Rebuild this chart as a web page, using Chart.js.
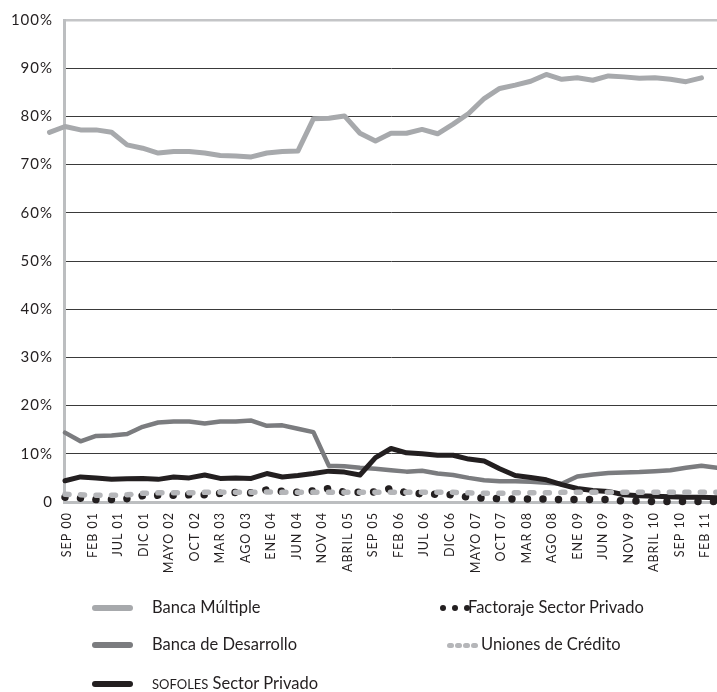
<!DOCTYPE html>
<html>
<head>
<meta charset="utf-8">
<script src="https://cdn.jsdelivr.net/npm/chart.js@4.4.1/dist/chart.umd.min.js"></script>
<style>
body { margin: 0; background: #fff; }
#wrap { position: relative; width: 717px; height: 692px; }
#legend { position: absolute; left: 0; top: 0; width: 717px; height: 692px; font-family: Lato, sans-serif; font-size: 16.5px; color: #231f20; }
.txt { position: absolute; white-space: nowrap; line-height: 20px; height: 20px; }
.mark { position: absolute; }
</style>
</head>
<body>
<div id="wrap">
<canvas id="c" width="717" height="692"></canvas>
<div id="legend"></div>
</div>
<script>
// etiquetas del eje X (cada 5 meses, desde SEP 00)
var xLabels = ["SEP 00", "FEB 01", "JUL 01", "DIC 01", "MAYO 02", "OCT 02", "MAR 03", "AGO 03", "ENE 04", "JUN 04",
	"NOV 04", "ABRIL 05", "SEP 05", "FEB 06", "JUL 06", "DIC 06", "MAYO 07", "OCT 07", "MAR 08", "AGO 08",
	"ENE 09", "JUN 09", "NOV 09", "ABRIL 10", "SEP 10", "FEB 11"];

var yTicks = [0, 10, 20, 30, 40, 50, 60, 70, 80, 90, 100];

var seriesNames = ["Banca Múltiple", "Banca de Desarrollo", "SOFOLES Sector Privado", "Factoraje Sector Privado", "Uniones de Crédito"];

// % del total, lecturas trimestrales
// Banca Múltiple empieza un trimestre antes que las demás (asi viene en la grafica)
var bancaMultiple = [76.7, 77.9, 77.2, 77.2, 76.7, 74.1, 73.4, 72.4, 72.7, 72.7, 72.4, 71.9, 71.8, 71.6, 72.4, 72.7, 72.8,
	79.5, 79.6, 80.1, 76.5, 74.9, 76.5, 76.5, 77.3, 76.4, 78.4, 80.6, 83.7, 85.8, 86.5, 87.3, 88.7, 87.7, 88.0, 87.5,
	88.4, 88.2, 87.9, 88.0, 87.7, 87.2, 88.0];

var bancaDesarrollo = [14.4, 12.6, 13.7, 13.8, 14.1, 15.6, 16.5, 16.7, 16.7, 16.3, 16.7, 16.7, 16.9, 15.8, 15.9, 15.2, 14.5,
	7.5, 7.4, 7.1, 6.9, 6.6, 6.3, 6.5, 5.9, 5.6, 5.0, 4.5, 4.3, 4.3, 4.2, 4.0, 3.8, 5.3, 5.7, 6.0, 6.1, 6.2, 6.4, 6.6,
	7.1, 7.5, 7.1];

var sofoles = [4.4, 5.2, 5.0, 4.7, 4.8, 4.9, 4.7, 5.2, 5.0, 5.6, 4.9, 5.0, 4.9, 5.9, 5.2, 5.5, 5.9, 6.4, 6.2, 5.6,
	9.2, 11.1, 10.2, 10.0, 9.7, 9.7, 8.9, 8.5, 6.9, 5.5, 5.1, 4.6, 3.6, 2.8, 2.4, 2.2, 1.5, 1.3, 1.2, 1.1, 1.0, 1.0, 0.9];

var factoraje = [1.0, 0.8, 0.5, 0.5, 0.7, 1.3, 1.4, 1.4, 1.5, 1.5, 1.8, 2.0, 1.9, 2.5, 2.2, 2.0, 2.3, 2.8, 2.0, 2.0,
	2.1, 2.8, 1.9, 1.7, 1.6, 1.5, 1.0, 0.8, 0.7, 0.6, 0.6, 0.6, 0.5, 0.5, 0.5, 0.5, 0.2, 0.2, 0.1, 0.1, 0.1, 0.1, 0.1];

var uniones = [1.6, 1.5, 1.4, 1.4, 1.5, 1.8, 1.9, 1.9, 1.9, 2.0, 2.0, 2.0, 2.0, 2.1, 2.0, 2.0, 2.0, 2.0, 2.0, 2.0,
	2.0, 2.0, 2.0, 2.0, 2.0, 2.0, 1.9, 1.8, 1.8, 1.9, 1.9, 1.9, 2.0, 2.0, 2.0, 2.0, 2.0, 2.0, 2.0, 2.0, 2.0, 2.0, 2.0];

var MONTHS_PER_LABEL = 5;

function toPoints(values, shift) {
	var ret = [];
	for(var i = 0; i < values.length; i++) {
		ret.push({ x: i + shift, y: values[i] });
	}
	return ret;
}

var styles = [
	{ color: "#a7a9ac", width: 5, dash: [], order: 4, shift: -1 },
	{ color: "#7b7c7f", width: 4.5, dash: [], order: 3, shift: 0 },
	{ color: "#231f20", width: 5, dash: [], order: 2, shift: 0 },
	{ color: "#231f20", width: 7.5, dash: [0.01, 15.5], order: 1, shift: 0 },
	{ color: "#b5b6b9", width: 5.5, dash: [4, 11.5], order: 0, shift: 0 }
];

var seriesValues = [bancaMultiple, bancaDesarrollo, sofoles, factoraje, uniones];

var datasets = [];
for(var i = 0; i < seriesNames.length; i++) {
	var s = styles[i];
	datasets.push({
		label: seriesNames[i],
		data: toPoints(seriesValues[i], s.shift),
		xAxisID: "x",
		yAxisID: "y",
		borderColor: s.color,
		backgroundColor: s.color,
		borderWidth: s.width,
		borderDash: s.dash,
		borderCapStyle: "round",
		borderJoinStyle: "round",
		pointRadius: 0,
		tension: 0,
		fill: false,
		clip: false,
		order: s.order
	});
}

// el texto del grafico lleva un poco de espaciado entre letras
var letterSpacingPlugin = {
	id: "letterSpacing",
	beforeDraw: function(chart) { chart.ctx.letterSpacing = "1px"; },
	beforeDatasetsDraw: function(chart) { chart.ctx.letterSpacing = "0px"; }
};

var chart = new Chart(document.getElementById("c").getContext("2d"), {
	type: "line",
	data: { datasets: datasets },
	plugins: [letterSpacingPlugin],
	options: {
		responsive: false,
		animation: false,
		events: [],
		layout: { padding: { left: 6, top: 10, right: 0, bottom: 112 } },
		plugins: { legend: { display: false }, tooltip: { enabled: false } },
		scales: {
			x: { type: "linear", display: false, min: -0.065, max: 42 },
			months: {
				type: "linear",
				position: "bottom",
				min: -0.6,
				max: 127.3,
				grid: { display: false, drawTicks: false },
				border: { display: true, color: "#bcbec0", width: 3 },
				ticks: {
					autoSkip: false,
					minRotation: 90,
					maxRotation: 90,
					padding: 10,
					color: "#231f20",
					font: { family: "Lato", size: 12.5 },
					callback: function(v, idx) { return xLabels[idx]; }
				},
				afterBuildTicks: function(scale) {
					scale.ticks = xLabels.map(function(l, i) { return { value: i * MONTHS_PER_LABEL }; });
				},
				afterFit: function(scale) {
					scale.height = 78;
					scale.paddingLeft = 0;
					scale.paddingRight = 0;
				}
			},
			y: {
				min: 0,
				max: 100,
				grid: {
					drawTicks: false,
					color: function(c) {
						if(c.tick.value === 100) return "#c4c5c7";
						if(c.tick.value === 0) return "rgba(0,0,0,0)";
						return "#3a3a3a";
					},
					lineWidth: function(c) { return c.tick.value === 100 ? 2.5 : 1; }
				},
				border: { display: true, color: "#bcbec0", width: 3 },
				ticks: {
					padding: 11,
					color: "#231f20",
					font: { family: "Lato", size: 15 },
					callback: function(v) { return v === 0 ? "0" : v + "%"; }
				},
				afterBuildTicks: function(scale) {
					scale.ticks = yTicks.map(function(v) { return { value: v }; });
				},
				afterFit: function(scale) { scale.width = 58; }
			}
		}
	}
});

// leyenda
var legendSpots = [
	{ x: 92, y: 608, tx: 152, kind: "line" },
	{ x: 92, y: 645, tx: 152, kind: "line" },
	{ x: 92, y: 684, tx: 152, kind: "line" },
	{ x: 440, y: 608, tx: 468, kind: "dots" },
	{ x: 447, y: 645, tx: 481, kind: "dashes" }
];

function addMark(root, x, y, w, h, color, r) {
	var d = document.createElement("div");
	d.className = "mark";
	d.style.left = x + "px";
	d.style.top = (y - h / 2) + "px";
	d.style.width = w + "px";
	d.style.height = h + "px";
	d.style.background = color;
	d.style.borderRadius = r + "px";
	root.appendChild(d);
}

function buildLegend() {
	var root = document.getElementById("legend");
	for(var i = 0; i < seriesNames.length; i++) {
		var p = legendSpots[i];
		var col = styles[i].color;

		if(p.kind === "line") {
			addMark(root, p.x, p.y, 41, 6, col, 3);
		} else if(p.kind === "dots") {
			for(var k = 0; k < 3; k++) addMark(root, p.x + k * 12, p.y, 6, 6, col, 3);
		} else {
			for(var k = 0; k < 4; k++) addMark(root, p.x + k * 8, p.y, 6.5, 5, col, 2.5);
		}

		var t = document.createElement("div");
		t.className = "txt";
		t.style.left = p.tx + "px";
		t.style.top = (p.y - 11) + "px";
		var name = seriesNames[i];
		if(name.indexOf("SOFOLES") === 0) {
			t.innerHTML = '<span style="font-size:13px">SOFOLES</span>' + name.substring(7);
		} else {
			t.textContent = name;
		}
		root.appendChild(t);
	}
}

buildLegend();
</script>
</body>
</html>
